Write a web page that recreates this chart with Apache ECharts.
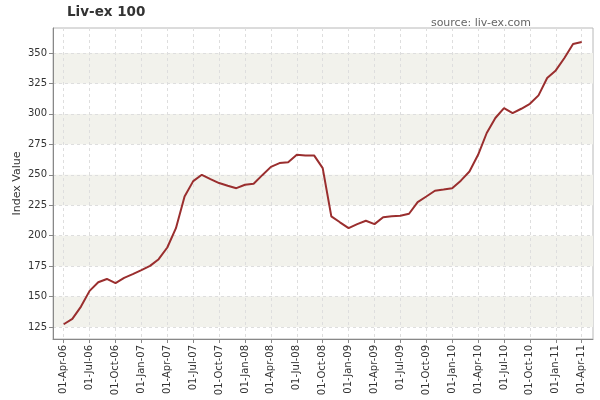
<!DOCTYPE html>
<html>
<head>
<meta charset="utf-8">
<script src="https://cdn.jsdelivr.net/npm/echarts@6/dist/echarts.min.js"></script>
<style>html,body{margin:0;padding:0;background:#fff}#c{width:600px;height:400px}</style>
</head>
<body>
<div id="c"></div>
<script>
// Monthly Liv-ex 100 index values, Apr-2006 .. Apr-2011
const months = ['Apr-06','May-06','Jun-06','Jul-06','Aug-06','Sep-06','Oct-06','Nov-06','Dec-06',
  'Jan-07','Feb-07','Mar-07','Apr-07','May-07','Jun-07','Jul-07','Aug-07','Sep-07','Oct-07','Nov-07','Dec-07',
  'Jan-08','Feb-08','Mar-08','Apr-08','May-08','Jun-08','Jul-08','Aug-08','Sep-08','Oct-08','Nov-08','Dec-08',
  'Jan-09','Feb-09','Mar-09','Apr-09','May-09','Jun-09','Jul-09','Aug-09','Sep-09','Oct-09','Nov-09','Dec-09',
  'Jan-10','Feb-10','Mar-10','Apr-10','May-10','Jun-10','Jul-10','Aug-10','Sep-10','Oct-10','Nov-10','Dec-10',
  'Jan-11','Feb-11','Mar-11','Apr-11'];
const indexValues = [127.3,131.7,141.8,154.7,161.8,164.5,161.0,165.4,168.4,
  171.7,175.2,180.7,190.3,206.2,232.2,244.8,250.0,246.5,243.2,241.0,239.0,
  241.8,242.7,249.7,256.5,259.6,260.3,266.4,265.9,265.9,255.5,215.9,211.0,
  206.2,209.5,212.3,209.5,215.2,216.0,216.3,218.0,227.6,232.2,236.9,237.9,
  239.0,245.2,252.7,266.4,284.3,296.6,304.8,300.7,304.2,308.3,315.2,329.5,
  335.7,345.9,357.4,359.0];
// X tick labels (every third month)
const xTickLabels = ['01-Apr-06','01-Jul-06','01-Oct-06','01-Jan-07','01-Apr-07','01-Jul-07','01-Oct-07',
  '01-Jan-08','01-Apr-08','01-Jul-08','01-Oct-08','01-Jan-09','01-Apr-09','01-Jul-09','01-Oct-09',
  '01-Jan-10','01-Apr-10','01-Jul-10','01-Oct-10','01-Jan-11','01-Apr-11'];
const yTicks = [125,150,175,200,225,250,275,300,325,350];

const xTickPos = xTickLabels.map((_, i) => i * 3);
const seriesData = indexValues.map((v, i) => [i, v]);

const chart = echarts.init(document.getElementById('c'), null, {renderer: 'canvas'});
const FONT = 'DejaVu Sans';
chart.setOption({
  animation: false,
  backgroundColor: '#fff',
  textStyle: {fontFamily: FONT},
  title: [
    {text: 'Liv-ex 100', left: 62, top: 0,
     textStyle: {fontFamily: FONT, fontSize: 13.5, fontWeight: 'bold', color: '#333'}},
    {text: 'source: liv-ex.com', right: 64, top: 13,
     textStyle: {fontFamily: FONT, fontSize: 11, fontWeight: 'normal', color: '#666'}}
  ],
  grid: {left: 53, right: 7, top: 28, bottom: 61, containLabel: false, outerBoundsMode: 'none',
    show: true, borderColor: '#b8b8b8', borderWidth: 1, backgroundColor: 'transparent'},
  xAxis: {
    type: 'value', min: -1.24, max: 61.31,
    axisLine: {show: true, onZero: false, lineStyle: {color: '#888', width: 1}},
    axisTick: {show: true, customValues: xTickPos, length: 4, lineStyle: {color: '#888'}},
    axisLabel: {customValues: xTickPos, rotate: 90, margin: 6, fontSize: 10, color: '#333', fontFamily: FONT,
      formatter: v => xTickLabels[Math.round(v / 3)] || ''},
    splitLine: {show: true, lineStyle: {color: '#dedede', type: [3, 3], width: 1}}
  },
  yAxis: {
    type: 'value', min: 115.2, max: 370.5,
    name: 'Index Value', nameLocation: 'middle', nameRotate: 90, nameGap: 30, nameMoveOverlap: false,
    nameTextStyle: {fontFamily: FONT, fontSize: 11, color: '#333'},
    axisLine: {show: true, onZero: false, lineStyle: {color: '#888', width: 1}},
    axisTick: {show: true, customValues: yTicks, length: 4, lineStyle: {color: '#888'}},
    axisLabel: {customValues: yTicks, margin: 6, fontSize: 10, color: '#333', fontFamily: FONT},
    splitLine: {show: true, lineStyle: {color: '#dedede', type: [3, 3], width: 1}},
    splitArea: {show: true, areaStyle: {color: ['#f2f2ec', 'rgba(255,255,255,0)']}}
  },
  series: [{
    type: 'line', data: seriesData, showSymbol: false, symbol: 'none',
    lineStyle: {color: '#9a2e2e', width: 2}, itemStyle: {color: '#9a2e2e'}
  }]
});
</script>
</body>
</html>
